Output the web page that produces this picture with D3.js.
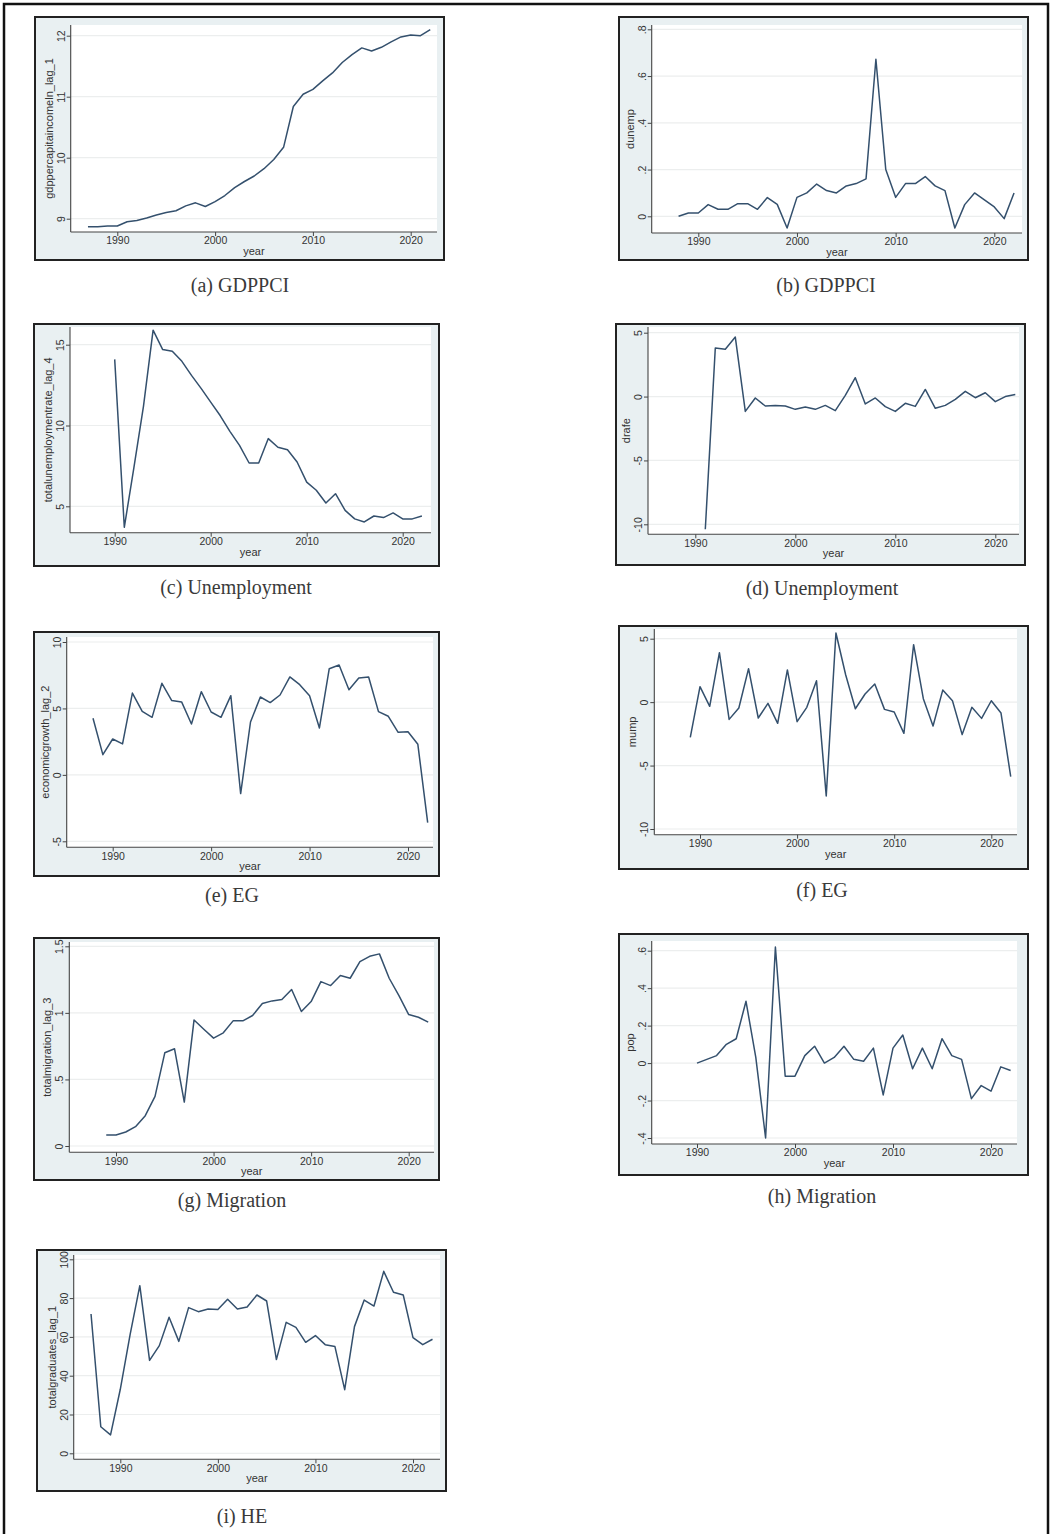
<!DOCTYPE html>
<html>
<head>
<meta charset="utf-8">
<script src="https://cdn.jsdelivr.net/npm/d3@7/dist/d3.min.js"></script>
<style>
  html, body { margin: 0; padding: 0; background: #ffffff; }
  svg { display: block; }
</style>
</head>
<body>
<svg id="chart" width="1053" height="1534"></svg>
<script>
// ---------------- DATA ----------------
const years = [1987,1988,1989,1990,1991,1992,1993,1994,1995,1996,1997,1998,1999,2000,2001,2002,2003,2004,2005,2006,2007,2008,2009,2010,2011,2012,2013,2014,2015,2016,2017,2018,2019,2020,2021,2022];
const xTicks = [1990, 2000, 2010, 2020];

const gdppcLag1 = [8.87,8.87,8.88,8.88,8.95,8.97,9.01,9.06,9.10,9.13,9.21,9.26,9.20,9.28,9.38,9.51,9.61,9.70,9.82,9.97,10.17,10.84,11.04,11.12,11.26,11.39,11.56,11.69,11.80,11.75,11.81,11.90,11.98,12.01,12.00,12.10];
const dunemp = [null,0,0.014,0.014,0.05,0.03,0.03,0.054,0.054,0.03,0.08,0.051,-0.05,0.081,0.10,0.138,0.11,0.10,0.13,0.14,0.16,0.672,0.20,0.081,0.14,0.14,0.17,0.13,0.11,-0.05,0.05,0.10,0.07,0.04,-0.01,0.10];
const unempLag4 = [null,null,null,14.09,3.70,7.4,11.2,15.9,14.7,14.6,13.97,13.1,12.3,11.45,10.6,9.64,8.77,7.68,7.68,9.19,8.65,8.5,7.74,6.5,5.99,5.2,5.78,4.75,4.22,4.03,4.4,4.3,4.59,4.22,4.22,4.4];
const drafe = [null,null,null,null,-10.39,3.8,3.7,4.66,-1.16,-0.11,-0.74,-0.69,-0.74,-1.0,-0.82,-1.0,-0.69,-1.1,0.1,1.48,-0.58,-0.11,-0.79,-1.16,-0.53,-0.77,0.56,-0.92,-0.69,-0.22,0.41,-0.09,0.3,-0.4,0.0,0.17];
const growthLag2 = [null,4.26,1.52,2.7,2.33,6.16,4.78,4.33,6.89,5.59,5.49,3.83,6.26,4.73,4.33,5.96,-1.41,3.98,5.86,5.44,6.01,7.37,6.79,5.96,3.53,7.99,8.27,6.41,7.29,7.37,4.76,4.41,3.2,3.25,2.3,-3.6];
const mump = [null,null,-2.78,1.22,-0.33,3.9,-1.36,-0.46,2.64,-1.25,-0.1,-1.67,2.54,-1.54,-0.41,1.69,-7.4,5.45,2.16,-0.52,0.64,1.43,-0.57,-0.78,-2.46,4.53,0.27,-1.88,0.95,0.11,-2.56,-0.41,-1.28,0.11,-0.86,-5.87];
const migrationLag3 = [null,null,0.083,0.083,0.105,0.145,0.228,0.373,0.70,0.73,0.33,0.947,0.877,0.81,0.85,0.94,0.94,0.98,1.07,1.09,1.10,1.175,1.01,1.085,1.235,1.205,1.28,1.26,1.385,1.425,1.443,1.26,1.13,0.987,0.967,0.93];
const pop = [null,null,null,0.0,0.02,0.04,0.10,0.13,0.33,0.03,-0.40,0.62,-0.07,-0.07,0.04,0.09,0.0,0.03,0.09,0.02,0.01,0.08,-0.17,0.08,0.15,-0.03,0.08,-0.03,0.13,0.04,0.02,-0.19,-0.12,-0.15,-0.02,-0.04];
const graduatesLag1 = [71.8,13.7,9.5,33,61,86.4,47.9,55.5,70.1,57.7,75.1,73,74.4,74.1,79.4,74.4,75.4,81.6,78.5,48.3,67.5,64.9,57.2,60.7,56,55,32.8,65.3,79,75.9,93.8,83,81.6,59.6,56,58.8];

const yTicksA = [9, 10, 11, 12];
const yTicksB = [0, 0.2, 0.4, 0.6, 0.8];
const yTicksC = [5, 10, 15];
const yTicksD = [-10, -5, 0, 5];
const yTicksE = [-5, 0, 5, 10];
const yTicksF = [-10, -5, 0, 5];
const yTicksG = [0, 0.5, 1, 1.5];
const yTicksH = [-0.4, -0.2, 0, 0.2, 0.4, 0.6];
const yTicksI = [0, 20, 40, 60, 80, 100];

const yTitles = ["gdppercapitaincomeln_lag_1","dunemp","totalunemploymentrate_lag_4","drafe","economicgrowth_lag_2","mump","totalmigration_lag_3","pop","totalgraduates_lag_1"];
const captions = ["(a) GDPPCI","(b) GDPPCI","(c) Unemployment","(d) Unemployment","(e) EG","(f) EG","(g) Migration","(h) Migration","(i) HE"];
const seriesList = [gdppcLag1, dunemp, unempLag4, drafe, growthLag2, mump, migrationLag3, pop, graduatesLag1];
const yTickList = [yTicksA, yTicksB, yTicksC, yTicksD, yTicksE, yTicksF, yTicksG, yTicksH, yTicksI];

// ---------------- LAYOUT (pixel geometry) ----------------
// box: outer frame; plot: left(y-axis x), top, right, bottom(x-axis y)
// yr: pixel of first & last y tick; xr: pixel of 1990 & 2020; cap: caption centre
const layout = [
  {box:[35,17,409,243],  plot:[70.7,25,437,232],     yr:[218.7,35.7],   xr:[117.3,410.7], cap:[240,285]},
  {box:[619,17,409,243], plot:[651.7,25,1022,233],   yr:[216.3,29.3],   xr:[698.3,994.3], cap:[826,285]},
  {box:[34,324,405,242], plot:[70,327,431,532.7],    yr:[506.3,344.7],  xr:[114.7,402.7], cap:[236,587]},
  {box:[616,324,409,241],plot:[648,327,1019,534.3],  yr:[524.3,332.7],  xr:[695.3,995.3], cap:[822,588]},
  {box:[34,632,405,244], plot:[66.7,637,433,847.3],  yr:[841.3,642],    xr:[112.7,408],   cap:[232,895]},
  {box:[619,626,409,243],plot:[654.3,629,1017,834.7],yr:[829,638.7],    xr:[700,991.3],   cap:[822,890]},
  {box:[34,938,405,242], plot:[69.3,942,434,1152.3], yr:[1146,946.3],   xr:[116,408.7],   cap:[232,1200]},
  {box:[619,934,409,241],plot:[651.7,941,1017,1144], yr:[1138,950.7],   xr:[697,991],     cap:[822,1196]},
  {box:[37,1250,409,241],plot:[73.7,1255,440,1459.3],yr:[1453.3,1259.3],xr:[120.3,413],   cap:[242,1516]}
];

const svg = d3.select("#chart");
svg.append("rect").attr("x",0).attr("y",0).attr("width",1053).attr("height",1534).attr("fill","#ffffff");
// outer figure frame (bottom edge lies beyond the page)
svg.append("rect").attr("x",4).attr("y",4).attr("width",1044).attr("height",1560)
  .attr("fill","none").attr("stroke","#111").attr("stroke-width",2.5);

const fmtTick = v => {
  if (v === 0) return "0";
  let s = String(+v.toFixed(2));
  s = s.replace(/^0\./, ".").replace(/^-0\./, "-.");
  return s;
};

const sans = "'Liberation Sans', Arial, sans-serif";

layout.forEach((L, i) => {
  const g = svg.append("g");
  const [bx, by, bw, bh] = L.box;
  const [pl, pt, pr, pb] = L.plot;
  const yt = yTickList[i];
  const data = seriesList[i];

  // graph region
  g.append("rect").attr("x",bx).attr("y",by).attr("width",bw).attr("height",bh)
    .attr("fill","#e9f0f2").attr("stroke","#222").attr("stroke-width",2);
  // plot region
  g.append("rect").attr("x",pl).attr("y",pt).attr("width",pr-pl).attr("height",pb-pt)
    .attr("fill","#ffffff");

  const x = d3.scaleLinear().domain([xTicks[0], xTicks[xTicks.length-1]]).range(L.xr);
  const y = d3.scaleLinear().domain([yt[0], yt[yt.length-1]]).range(L.yr);

  // gridlines
  g.append("g").selectAll("line").data(yt).join("line")
    .attr("x1",pl).attr("x2",pr).attr("y1",d=>y(d)).attr("y2",d=>y(d))
    .attr("stroke","#eceeee").attr("stroke-width",1.2);

  // y axis
  const yAxis = d3.axisLeft(y).tickValues(yt).tickSize(4).tickSizeOuter(0).tickFormat(fmtTick);
  const ya = g.append("g").attr("transform",`translate(${pl},0)`).call(yAxis);
  ya.select(".domain").remove();
  ya.append("line").attr("x1",0).attr("x2",0).attr("y1",pt).attr("y2",pb).attr("stroke","#444").attr("stroke-width",1.1);
  ya.selectAll(".tick line").attr("stroke","#444");
  ya.selectAll(".tick text")
    .attr("x",0).attr("dy",null)
    .attr("transform","translate(-10,0) rotate(-90)")
    .attr("text-anchor","middle").attr("dominant-baseline","central")
    .attr("font-family",sans).attr("font-size",10.5).attr("fill","#333");

  // x axis
  const xAxis = d3.axisBottom(x).tickValues(xTicks).tickSize(4).tickSizeOuter(0).tickFormat(d3.format("d"));
  const xa = g.append("g").attr("transform",`translate(0,${pb})`).call(xAxis);
  xa.select(".domain").remove();
  xa.append("line").attr("x1",pl).attr("x2",pr).attr("y1",0).attr("y2",0).attr("stroke","#444").attr("stroke-width",1.1);
  xa.selectAll(".tick line").attr("stroke","#444");
  xa.selectAll(".tick text").attr("y",5).attr("dy","0.71em")
    .attr("font-family",sans).attr("font-size",10.5).attr("fill","#333");

  // axis titles
  g.append("text").attr("x",(pl+pr)/2).attr("y",pb+19)
    .attr("text-anchor","middle").attr("dominant-baseline","central")
    .attr("font-family",sans).attr("font-size",11).attr("fill","#333")
    .text("year");
  g.append("text")
    .attr("transform",`translate(${pl-22},${(pt+pb)/2}) rotate(-90)`)
    .attr("text-anchor","middle").attr("dominant-baseline","central")
    .attr("font-family",sans).attr("font-size",11).attr("fill","#333")
    .text(yTitles[i]);

  // series line
  const line = d3.line()
    .defined(d => d[1] !== null)
    .x(d => x(d[0])).y(d => y(d[1]));
  g.append("path").datum(years.map((yr, k) => [yr, data[k]]))
    .attr("d", line).attr("fill","none")
    .attr("stroke","#34506d").attr("stroke-width",1.5).attr("stroke-linejoin","round");

  // caption
  svg.append("text").attr("x",L.cap[0]).attr("y",L.cap[1])
    .attr("text-anchor","middle").attr("dominant-baseline","central")
    .attr("font-family","'Liberation Serif', 'Times New Roman', serif").attr("font-size",20).attr("fill","#3a3a3a")
    .text(captions[i]);
});
</script>
</body>
</html>
